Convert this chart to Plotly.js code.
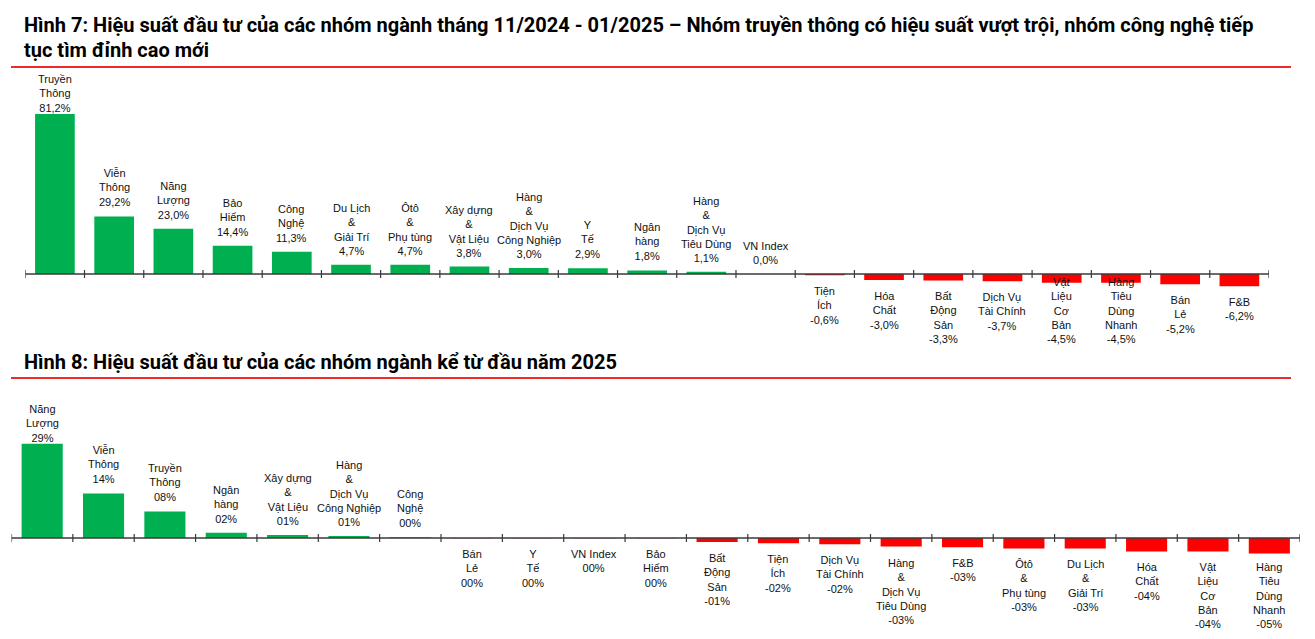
<!DOCTYPE html>
<html><head><meta charset="utf-8">
<script src="https://cdn.plot.ly/plotly-3.0.1.min.js"></script>
<style>html,body{margin:0;padding:0;background:#fff;}#chart{width:1315px;height:639px;}</style>
</head><body><div id="chart"></div>
<script>
// ---- Data: Hình 7 (11/2024 - 01/2025) ----
const cats1 = ["Truyền<br>Thông","Viễn<br>Thông","Năng<br>Lượng","Bảo<br>Hiểm","Công<br>Nghệ","Du Lịch<br>&<br>Giải Trí","Ôtô<br>&<br>Phụ tùng","Xây dựng<br>&<br>Vật Liệu","Hàng<br>&<br>Dịch Vụ<br>Công Nghiệp","Y<br>Tế","Ngân<br>hàng","Hàng<br>&<br>Dịch Vụ<br>Tiêu Dùng","VN Index","Tiện<br>Ích","Hóa<br>Chất","Bất<br>Động<br>Sản","Dịch Vụ<br>Tài Chính","Vật<br>Liệu<br>Cơ<br>Bản","Hàng<br>Tiêu<br>Dùng<br>Nhanh","Bán<br>Lẻ","F&B"];
const vals1 = [81.2,29.2,23.0,14.4,11.3,4.7,4.7,3.8,3.0,2.9,1.8,1.1,0.0,-0.6,-3.0,-3.3,-3.7,-4.5,-4.5,-5.2,-6.2];

// ---- Data: Hình 8 (từ đầu năm 2025) ----
const cats2 = ["Năng<br>Lượng","Viễn<br>Thông","Truyền<br>Thông","Ngân<br>hàng","Xây dựng<br>&<br>Vật Liệu","Hàng<br>&<br>Dịch Vụ<br>Công Nghiệp","Công<br>Nghệ","Bán<br>Lẻ","Y<br>Tế","VN Index","Bảo<br>Hiểm","Bất<br>Động<br>Sản","Tiện<br>Ích","Dịch Vụ<br>Tài Chính","Hàng<br>&<br>Dịch Vụ<br>Tiêu Dùng","F&B","Ôtô<br>&<br>Phụ tùng","Du Lịch<br>&<br>Giải Trí","Hóa<br>Chất","Vật<br>Liệu<br>Cơ<br>Bản","Hàng<br>Tiêu<br>Dùng<br>Nhanh"];
const vals2 = [28.8,13.6,8.1,1.6,0.9,0.6,0.2,-0.1,-0.1,-0.1,-0.1,-1.2,-1.6,-1.9,-2.6,-2.8,-3.2,-3.2,-4.1,-4.1,-4.7];

const title1a = "Hình 7: Hiệu suất đầu tư của các nhóm ngành tháng 11/2024 - 01/2025 – Nhóm truyền thông có hiệu suất vượt trội, nhóm công nghệ tiếp";
const title1b = "tục tìm đỉnh cao mới";
const title2 = "Hình 8: Hiệu suất đầu tư của các nhóm ngành kể từ đầu năm 2025";

const fmt1 = v => v.toFixed(1).replace('.', ',') + '%';
const fmt2 = v => { const r = Math.round(v); const s = String(Math.abs(r)).padStart(2,'0'); return (r < 0 ? '-' : '') + s + '%'; };

// ---- Layout geometry (pixels) ----
const W = 1315, H = 639;
const GREEN = '#00b050', RED = '#ff0000';
const FONT = 'Liberation Sans, Arial, sans-serif';
const LBL = 11;
const charts = [
  {cats: cats1, vals: vals1, fmt: fmt1, xa: 'x', ya: 'y', x0: 25.3, x1: 1269, zero: 274, scale: 1.970, ymin: -30, ymax: 90, top: 71, bottom: 347},
  {cats: cats2, vals: vals2, fmt: fmt2, xa: 'x2', ya: 'y2', x0: 11.5, x1: 1300, zero: 538, scale: 3.275, ymin: -25, ymax: 40, top: 401, bottom: 633}
];

const data = [], annotations = [], shapes = [];
const layout = {
  width: W, height: H, margin: {l:0, r:0, t:0, b:0},
  paper_bgcolor: '#fff', plot_bgcolor: 'rgba(0,0,0,0)',
  showlegend: false, bargap: 0.33, font: {family: FONT, color: '#1a1a1a'}
};

charts.forEach((c, k) => {
  const sfx = k === 0 ? '' : '2';
  const topPx = c.zero - c.ymax * c.scale, botPx = c.zero - c.ymin * c.scale;
  layout['xaxis' + sfx] = {domain: [c.x0 / W, c.x1 / W], range: [-0.5, c.cats.length - 0.5], type: 'category',
    showticklabels: false, showgrid: false, zeroline: false, showline: false, ticks: '', anchor: 'y' + sfx, fixedrange: true};
  layout['yaxis' + sfx] = {domain: [1 - botPx / H, 1 - topPx / H], range: [c.ymin, c.ymax], visible: false,
    showgrid: false, zeroline: false, anchor: 'x' + sfx, fixedrange: true};
  data.push({type: 'bar', x: c.cats, y: c.vals, xaxis: c.xa, yaxis: c.ya,
    marker: {color: c.vals.map(v => v >= 0 ? GREEN : RED), line: {width: 0}}, hoverinfo: 'skip'});
  // axis line & crossing ticks
  shapes.push({type: 'line', xref: c.xa, yref: c.ya, x0: -0.5, x1: c.cats.length - 0.5, y0: 0, y1: 0,
    line: {color: '#3a3a3a', width: 1.5}, layer: 'above'});
  for (let i = 0; i <= c.cats.length; i++) {
    shapes.push({type: 'line', xref: c.xa, yref: c.ya, x0: i - 0.5, x1: i - 0.5, ysizemode: 'pixel', yanchor: 0,
      y0: -4, y1: 4, line: {color: '#3a3a3a', width: 1.2}, layer: 'above'});
  }
  // data labels
  c.cats.forEach((name, i) => {
    const v = c.vals[i];
    const text = name + '<br>' + c.fmt(v);
    const n = text.split('<br>').length;
    const h = n * LBL * 1.3 + 2;
    const endPx = c.zero - v * c.scale;
    let ann = {xref: c.xa, yref: c.ya, x: i, y: v, text: text, showarrow: false,
      font: {family: FONT, size: LBL, color: '#111'}, align: 'center', xanchor: 'center'};
    if (v >= 0) {
      let b = endPx - 6;
      if (b - h < c.top) b = c.top + h;
      ann.yanchor = 'bottom'; ann.yshift = endPx - b;
    } else {
      let t = endPx + 8;
      if (t + h > c.bottom) t = c.bottom - h;
      ann.yanchor = 'top'; ann.yshift = endPx - t;
    }
    annotations.push(ann);
  });
});

// titles and red rules
const tfont = {family: 'Roboto, Arial, sans-serif', size: 20, color: '#000'};
[[title1a, 25], [title1b, 50], [title2, 362]].forEach(([t, y]) => {
  annotations.push({xref: 'paper', yref: 'paper', x: 22 / W, y: 1 - y / H, xanchor: 'left', yanchor: 'middle',
    text: '<b>' + t + '</b>', showarrow: false, font: tfont, align: 'left'});
});
[67, 378].forEach(y => {
  shapes.push({type: 'line', xref: 'paper', yref: 'paper', x0: 11 / W, x1: 1291 / W, y0: 1 - y / H, y1: 1 - y / H,
    line: {color: '#ee2a2a', width: 2}});
});

layout.annotations = annotations;
layout.shapes = shapes;
Plotly.newPlot('chart', data, layout, {displayModeBar: false, staticPlot: true});
</script>
</body></html>
